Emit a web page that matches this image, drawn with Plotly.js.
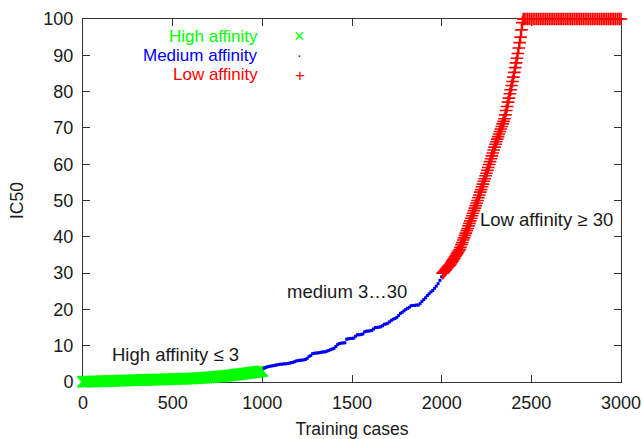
<!DOCTYPE html>
<html>
<head>
<meta charset="utf-8">
<script src="https://cdn.plot.ly/plotly-3.0.1.min.js"></script>
<style>html,body{margin:0;padding:0;background:#fff;}#chart{width:642px;height:439px;}</style>
</head>
<body>
<div id="chart"></div>
<script>
// ---- data ----
const highX = [0,10,20,30,40,50,60,70,80,90,100,110,120,130,140,150,160,170,180,190,200,210,220,230,240,250,260,270,280,290,300,310,320,330,340,350,360,370,380,390,400,410,420,430,440,450,460,470,480,490,500,510,520,530,540,550,560,570,580,590,600,610,620,630,640,650,660,670,680,690,700,710,720,730,740,750,760,770,780,790,800,810,820,830,840,850,860,870,880,890,900,910,920,930,940,950,960,970,980,990,1000];
const highY = [0.05,0.07,0.08,0.10,0.11,0.13,0.14,0.16,0.17,0.19,0.20,
  0.22,0.23,0.25,0.26,0.28,0.29,0.31,0.32,0.34,0.35,
  0.37,0.38,0.40,0.41,0.43,0.44,0.46,0.47,0.49,0.50,
  0.52,0.53,0.55,0.56,0.58,0.59,0.61,0.62,0.64,0.65,
  0.67,0.68,0.70,0.71,0.73,0.74,0.76,0.77,0.79,0.80,
  0.82,0.83,0.85,0.86,0.88,0.89,0.91,0.92,0.94,0.95,
  0.98,1.01,1.04,1.07,1.10,1.13,1.16,1.19,1.22,1.25,
  1.29,1.34,1.38,1.43,1.47,1.52,1.56,1.61,1.65,1.70,
  1.76,1.82,1.88,1.94,2.00,2.06,2.12,2.18,2.24,2.30,
  2.37,2.44,2.51,2.58,2.65,2.72,2.79,2.86,2.93,3.00];

const mediumX = [1010,1020,1030,1040,1050,1060,1070,1080,1090,1100,1110,1120,1130,1140,1150,1160,1170,1180,1190,1200,1210,1220,1230,1240,1250,1260,1270,1280,1290,1300,1310,1320,1330,1340,1350,1360,1370,1380,1390,1400,1410,1420,1430,1440,1450,1460,1470,1480,1490,1500,1510,1520,1530,1540,1550,1560,1570,1580,1590,1600,1610,1620,1630,1640,1650,1660,1670,1680,1690,1700,1710,1720,1730,1740,1750,1760,1770,1780,1790,1800,1810,1820,1830,1840,1850,1860,1870,1880,1890,1900,1910,1920,1930,1940,1950,1960,1970,1980,1990,2000];
const mediumY = [3.8,4.0,4.2,4.3,4.4,4.5,4.6,4.7,4.8,4.9,
  4.9,5.0,5.0,5.1,5.2,5.3,5.4,5.6,5.8,5.9,
  6.0,6.0,6.1,6.2,6.5,7.0,7.3,7.8,7.9,8.0,
  8.0,8.1,8.2,8.3,8.3,8.5,8.7,8.9,9.1,9.3,
  9.8,10.3,10.6,10.7,10.8,10.8,11.8,11.9,12.0,12.0,
  12.1,12.6,13.0,13.0,13.1,13.2,13.8,14.0,14.0,14.1,
  14.2,14.6,15.0,15.0,15.1,15.2,15.5,15.9,16.0,16.2,
  16.6,17.0,17.3,17.5,17.8,18.3,18.9,19.2,19.6,20.0,
  20.3,20.6,21.0,21.1,21.1,21.2,21.2,21.6,22.2,22.7,
  23.2,23.8,24.3,24.8,25.2,25.8,26.4,27.1,28.0,29.0];

const lowX = [2005,2010,2015,2020,2025,2030,2035,2040,2045,2050,2055,2060,2065,2070,2075,2080,2085,2090,2095,2100,2105,2110,2115,2120,2125,2130,2135,2140,2145,2150,2155,2160,2165,2170,2175,2180,2185,2190,2195,2200,2205,2210,2215,2220,2225,2230,2235,2240,2245,2250,2255,2260,2265,2270,2275,2280,2285,2290,2295,2300,2305,2310,2315,2320,2325,2330,2335,2340,2345,2350,2355,2360,2365,2370,2375,2380,2385,2390,2395,2400,2405,2410,2415,2420,2425,2430,2435,2440,2445,2450,2455,
  2460,2470,2480,2490,2500,2510,2520,2530,2540,2550,2560,2570,2580,2590,2600,2610,2620,2630,2640,2650,2660,2670,2680,2690,2700,2710,2720,2730,2740,2750,2760,2770,2780,2790,2800,2810,2820,2830,2840,2850,2860,2870,2880,2890,2900,2910,2920,2930,2940,2950,2960,2970,2980,2990,3000];
const lowY = [30.0,30.2,30.5,30.8,31.1,31.4,31.7,32.0,32.2,32.5,
  32.9,33.3,33.7,34.1,34.5,34.9,35.3,35.7,36.1,36.5,
  37.1,37.8,38.4,39.1,39.7,40.4,41.0,41.7,42.3,43.0,
  43.7,44.4,45.1,45.8,46.5,47.2,47.9,48.6,49.3,50.0,
  50.8,51.5,52.3,53.0,53.8,54.5,55.3,56.0,56.8,57.5,
  58.3,59.1,59.9,60.7,61.5,62.3,63.1,63.9,64.7,65.5,
  66.2,66.9,67.6,68.3,69.0,69.7,70.4,71.1,71.8,72.5,
  73.6,74.8,75.9,77.1,78.2,79.4,80.5,81.7,82.8,84.0,
  85.3,86.6,87.9,89.2,90.5,92.0,93.5,95.0,97.0,99.0,
  100,
  100,100,100,100,100,100,100,100,100,100,100,100,100,100,100,100,100,100,100,100,100,100,100,100,100,100,100,100,100,100,100,100,100,100,100,100,100,100,100,100,100,100,100,100,100,100,100,100,100,100,100,100,100,100,100];

const xTicks = [0,500,1000,1500,2000,2500,3000];
const yTicks = [0,10,20,30,40,50,60,70,80,90,100];
const seriesNames = ["High affinity","Medium affinity","Low affinity"];
const seriesColors = ["#00ff00","#0000ff","#ff0000"];
const legendSymbols = ["\u00d7","\u00b7","+"];
const regionLabels = ["High affinity \u2264 3","medium 3\u202630","Low affinity \u2265 30"];

// ---- chart ----
const FONT = "Liberation Sans, Arial, Helvetica, sans-serif";
const TXT = "#1a1a1a";
const traces = [
  {x: highX, y: highY, mode: "markers", type: "scatter", name: seriesNames[0], cliponaxis: false,
   marker: {symbol: "x-thin-open", size: 11, color: seriesColors[0], line: {width: 2, color: seriesColors[0]}}},
  {x: mediumX, y: mediumY, mode: "markers", type: "scatter", name: seriesNames[1], cliponaxis: false,
   marker: {symbol: "square", size: 3, color: seriesColors[1], line: {width: 0}}},
  {x: lowX, y: lowY, mode: "markers", type: "scatter", name: seriesNames[2], cliponaxis: false,
   marker: {symbol: "cross-thin-open", size: 9, color: seriesColors[2], line: {width: 1.6, color: seriesColors[2]}}}
];

const ann = [];
const legY = [95.3, 89.95, 84.6];
const symSize = [18, 14, 17];
for (let i = 0; i < 3; i++) {
  ann.push({x: 987, y: legY[i], xref: "x", yref: "y", text: seriesNames[i], showarrow: false,
            xanchor: "right", yanchor: "middle", font: {family: FONT, size: 17, color: seriesColors[i]}});
  ann.push({x: 1210, y: legY[i], xref: "x", yref: "y", text: legendSymbols[i], showarrow: false, height: 14,
            xanchor: "center", yanchor: "middle", font: {family: FONT, size: symSize[i], color: seriesColors[i]}});
}
const labelPos = [[518, 7.7], [1472, 24.8], [2582, 44.9]];
for (let i = 0; i < 3; i++) {
  ann.push({x: labelPos[i][0], y: labelPos[i][1], xref: "x", yref: "y", text: regionLabels[i], showarrow: false,
            xanchor: "center", yanchor: "middle", font: {family: FONT, size: 18.5, color: TXT}});
}

const axisCommon = {
  showline: true, mirror: "ticks", linecolor: "#333", linewidth: 1,
  ticks: "inside", ticklen: 7, tickcolor: "#333", tickwidth: 1,
  showgrid: false, zeroline: false, layer: "below traces",
  tickfont: {family: FONT, size: 18, color: TXT}
};

const layout = {
  width: 642, height: 439,
  margin: {l: 83, r: 21, t: 19, b: 57, pad: 0},
  paper_bgcolor: "#fff", plot_bgcolor: "#fff",
  showlegend: false,
  xaxis: Object.assign({}, axisCommon, {
    range: [0, 3000], tickvals: xTicks, ticktext: xTicks.map(String), ticklabelstandoff: 4,
    title: {text: "Training cases", font: {family: FONT, size: 17.5, color: TXT}, standoff: 13}
  }),
  yaxis: Object.assign({}, axisCommon, {
    range: [0, 100], tickvals: yTicks, ticktext: yTicks.map(String), ticklabelstandoff: 5,
    title: {text: "IC50", font: {family: FONT, size: 17.5, color: TXT}, standoff: 15}
  }),
  annotations: ann
};

Plotly.newPlot("chart", traces, layout, {staticPlot: true, displayModeBar: false});
</script>
</body>
</html>
